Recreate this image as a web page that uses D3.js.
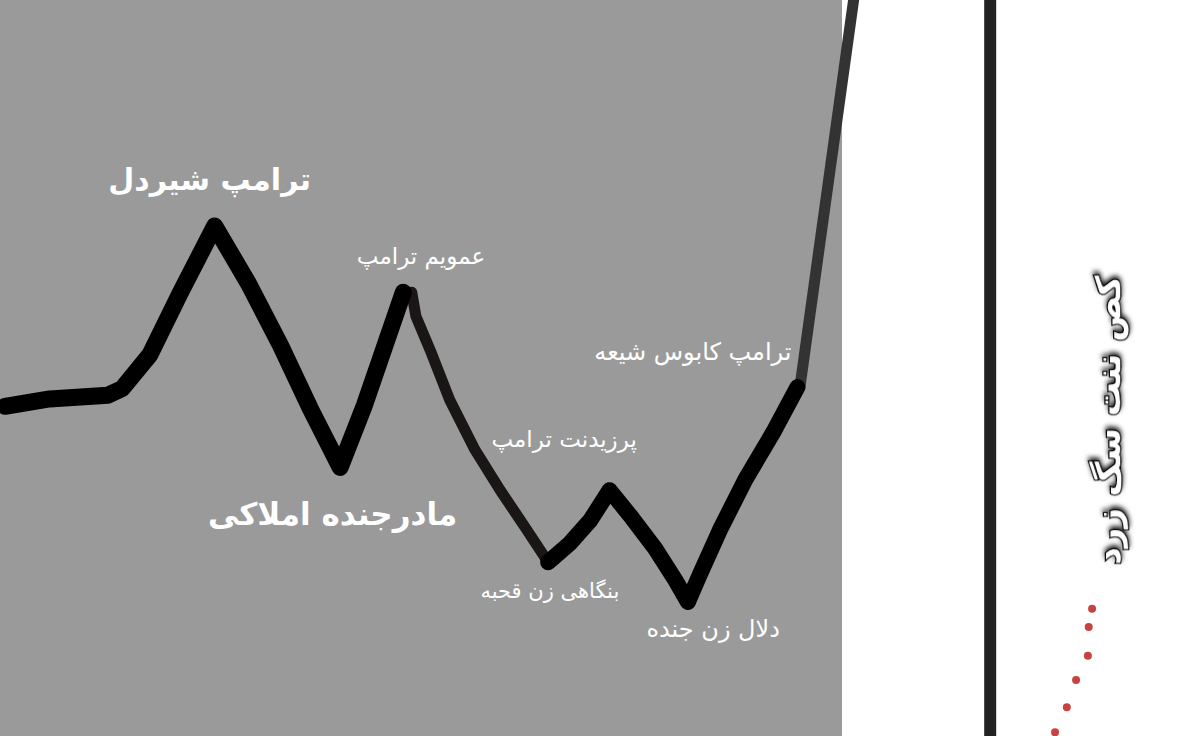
<!DOCTYPE html>
<html><head><meta charset="utf-8">
<script src="https://cdn.jsdelivr.net/npm/d3@7"></script>
<style>html,body{margin:0;padding:0;background:#fff;overflow:hidden}</style>
</head><body>
<svg id="c" width="1199" height="736"></svg>
<script>
// ---- data (abstract units: x 0..100 = panel width, y 0..100 = bottom..top)
const seg1X = [0.6, 5.9, 12.8, 14.5, 17.8, 21.4, 25.5, 29.5, 33.3, 36.8, 40.4, 43.3, 47.9];
const seg1Y = [44.8, 45.8, 46.3, 47.2, 51.8, 60.2, 69.3, 61.5, 53.1, 44.6, 36.5, 45.0, 60.3];
const seg2X = [48.9, 49.4, 51.1, 53.4, 56.4, 59.4, 62.4, 65.1];
const seg2Y = [60.3, 57.0, 52.4, 45.7, 38.9, 33.4, 28.3, 23.6];
const seg3X = [65.1, 67.7, 70.1, 72.4, 74.8, 77.8, 80.2, 81.7, 83.1, 85.5, 88.5, 92.0, 94.7];
const seg3Y = [23.6, 26.2, 29.3, 33.4, 30.0, 25.5, 21.2, 18.2, 21.9, 28.0, 34.8, 41.6, 47.4];
const seg4X = [95.0, 101.5];
const seg4Y = [47.4, 101];
const dotX = [129.7, 129.3, 129.2, 127.8, 126.7, 125.3, 123.7];
const dotY = [17.3, 14.8, 10.9, 7.6, 3.9, 0.5, -2.8];
const axisX = 117.6;
const labels = ["ترامپ شیردل", "عمویم ترامپ", "ترامپ کابوس شیعه", "پرزیدنت ترامپ", "مادرجنده املاکی", "بنگاهی زن قحبه", "دلال زن جنده"];
const labelX = [24.9, 50.0, 82.3, 67.0, 39.5, 65.3, 84.7];
const labelY = [74.2, 64.1, 51.1, 39.3, 28.7, 18.8, 13.5];
const labelSize = [30, 23, 24, 23, 31, 21, 24];
const labelWeight = ["bold", "normal", "normal", "normal", "bold", "normal", "normal"];
const sideTitle = "کص ننت سگ زرد";
const sideX = 131.6, sideY = 42.9;

// ---- drawing
const W = 1199, H = 736;
const x = d3.scaleLinear().domain([0, 100]).range([0, 842]);
const y = d3.scaleLinear().domain([0, 100]).range([H, 0]);
const svg = d3.select("#c");

const defs = svg.append("defs");
const f = defs.append("filter").attr("id", "sh").attr("x", "-20%").attr("y", "-20%").attr("width", "140%").attr("height", "140%");
f.append("feDropShadow").attr("dx", 3).attr("dy", 0).attr("stdDeviation", 2.5).attr("flood-color", "#000").attr("flood-opacity", 0.9);

svg.append("rect").attr("x", 0).attr("y", 0).attr("width", W).attr("height", H).attr("fill", "#fff");
svg.append("rect").attr("x", x(0)).attr("y", 0).attr("width", x(100) - x(0)).attr("height", H).attr("fill", "#9a9a9a");

// vertical axis line
svg.append("line").attr("x1", x(axisX)).attr("x2", x(axisX)).attr("y1", y(101)).attr("y2", y(-1))
  .attr("stroke", "#222").attr("stroke-width", 12);

const line = d3.line().x(d => x(d[0])).y(d => y(d[1])).curve(d3.curveLinear);
const segs = [
  {X: seg2X, Y: seg2Y, w: 11, c: "#1b1616"},
  {X: seg4X, Y: seg4Y, w: 11, c: "#333333"},
  {X: seg1X, Y: seg1Y, w: 17, c: "#000"},
  {X: seg3X, Y: seg3Y, w: 16, c: "#000"}
];
segs.forEach(s => {
  svg.append("path").datum(d3.zip(s.X, s.Y)).attr("d", line)
    .attr("fill", "none").attr("stroke", s.c).attr("stroke-width", s.w)
    .attr("stroke-linecap", "round").attr("stroke-linejoin", "round");
});

// red dotted
svg.selectAll("circle.dot").data(d3.zip(dotX, dotY)).join("circle").attr("class", "dot")
  .attr("cx", d => x(d[0])).attr("cy", d => y(d[1])).attr("r", 4).attr("fill", "#c94242");

// labels
svg.selectAll("text.lab").data(labels).join("text").attr("class", "lab")
  .attr("x", (d, i) => x(labelX[i])).attr("y", (d, i) => y(labelY[i]))
  .attr("text-anchor", "middle").attr("fill", "#fff")
  .attr("font-family", "'DejaVu Sans', 'Noto Sans', sans-serif")
  .attr("font-size", (d, i) => labelSize[i]).attr("font-weight", (d, i) => labelWeight[i])
  .text(d => d);

// side vertical title
svg.append("text")
  .attr("transform", `translate(${x(sideX)},${y(sideY)}) rotate(-90)`)
  .attr("text-anchor", "middle").attr("dominant-baseline", "central")
  .attr("font-family", "'DejaVu Sans', sans-serif").attr("font-weight", "bold").attr("font-size", 34)
  .attr("fill", "#fff").attr("stroke", "#000").attr("stroke-width", 2.5).attr("paint-order", "stroke")
  .attr("filter", "url(#sh)")
  .text(sideTitle);
</script>
</body></html>
